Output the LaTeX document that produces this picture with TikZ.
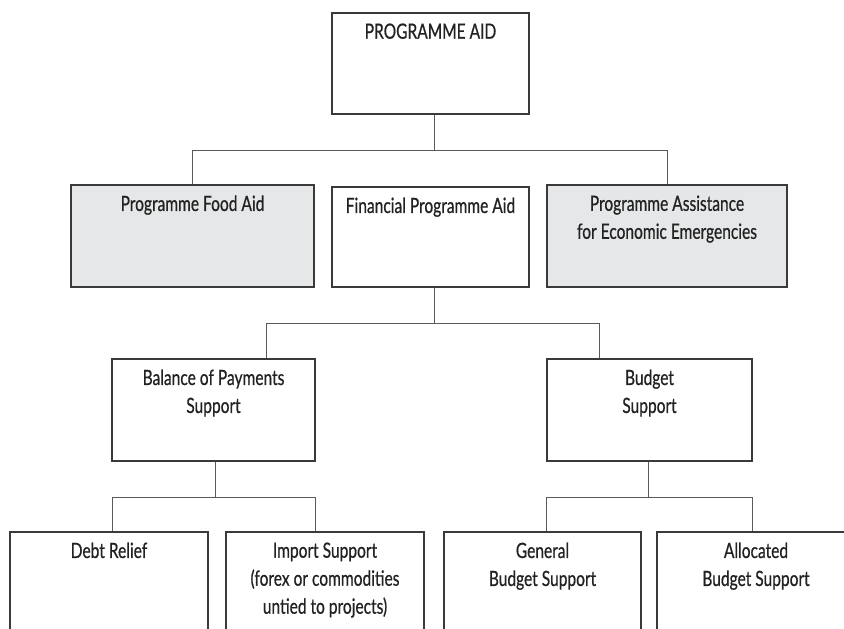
\documentclass[tikz,border=0pt]{standalone}
\usepackage{fontspec}
\setmainfont{Lato}[FakeStretch=0.74, FakeBold=0.6]
\usetikzlibrary{calc}
\definecolor{boxline}{HTML}{3A3A3A}
\definecolor{connline}{HTML}{5A5A5A}
\definecolor{boxfill}{HTML}{E6E7E8}
\definecolor{txtcol}{HTML}{222222}
\tikzset{
  orgbox/.style={draw=boxline, line width=1.4pt, fill=white, rectangle, inner sep=0pt},
  greybox/.style={orgbox, fill=boxfill},
  txt/.style={font=\fontsize{21}{28}\selectfont, text=txtcol, align=center, inner sep=0pt, anchor=north, yshift=-11pt},
  conn/.style={draw=connline, line width=0.9pt},
}
\newcommand{\orgnode}[7]{% style, name, left, top, right, bottom, text
  \node[#1, minimum width={(#5-#3)*1pt}, minimum height={(#6-#4)*1pt},
        label={[txt]north:{#7}}] (#2) at ({(#3+#5)/2},{(#4+#6)/2}) {};}
\begin{document}
\begin{tikzpicture}[x=1pt,y=-1pt]
\useasboundingbox (0,0) rectangle (844,629);
\clip (0,0) rectangle (844,629);
\fill[white] (0,0) rectangle (844,629);
% boxes
\orgnode{orgbox}{top}{332}{13}{529}{114}{PROGRAMME AID}
\orgnode{greybox}{food}{71}{185}{314}{287}{Programme Food Aid}
\orgnode{orgbox}{fin}{332}{187}{529}{287}{Financial Programme Aid}
\orgnode{greybox}{asst}{547}{185}{787}{287}{Programme Assistance\\for Economic Emergencies}
\orgnode{orgbox}{bop}{112}{359}{315}{461}{Balance of Payments\\Support}
\orgnode{orgbox}{bud}{547}{359}{752}{461}{Budget\\Support}
\orgnode{orgbox}{debt}{10}{532}{208}{690}{Debt Relief}
\orgnode{orgbox}{imp}{226}{532}{424}{690}{Import Support\\(forex or commodities\\untied to projects)}
\orgnode{orgbox}{gen}{444}{532}{641}{690}{General\\Budget Support}
\orgnode{orgbox}{alloc}{657}{532}{855}{690}{Allocated\\Budget Support}
% connectors level 1
\coordinate (j1) at ($(top.south)+(4,36)$);
\draw[conn] ($(top.south)+(4,0)$) -- (j1);
\draw[conn] (food.north) |- (j1) -| (asst.north);
% level 2
\coordinate (j2) at ($(fin.south)+(4,36)$);
\draw[conn] ($(fin.south)+(4,0)$) -- (j2);
\draw[conn] ($(bop.north)+(53,0)$) |- (j2) -| ($(bud.north)+(-50,0)$);
% level 3
\coordinate (j3) at ($(bop.south)+(2,36)$);
\draw[conn] ($(bop.south)+(2,0)$) -- (j3);
\draw[conn] ($(debt.north)+(3,0)$) |- (j3) -| ($(imp.north)+(-10,0)$);
\coordinate (j4) at ($(bud.south)+(-1,36)$);
\draw[conn] ($(bud.south)+(-1,0)$) -- (j4);
\draw[conn] ($(gen.north)+(4,0)$) |- (j4) -| ($(alloc.north)+(-4,0)$);
\end{tikzpicture}
\end{document}
